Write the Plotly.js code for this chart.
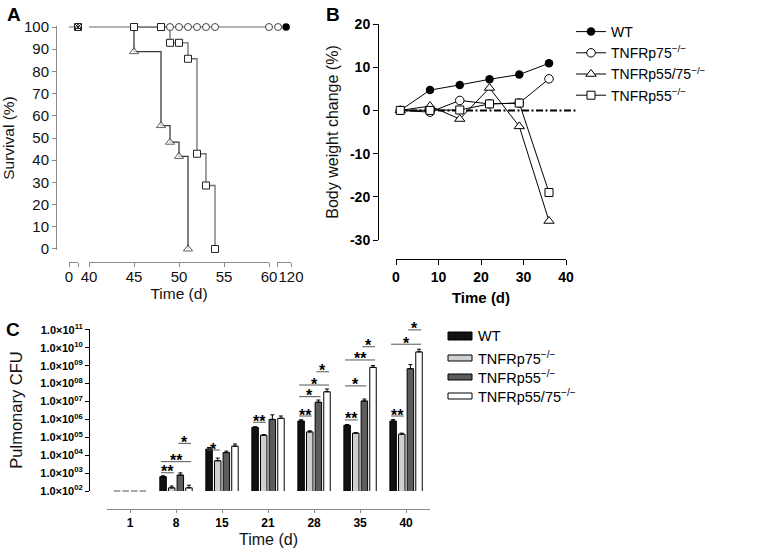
<!DOCTYPE html>
<html><head><meta charset="utf-8">
<script src="https://cdn.plot.ly/plotly-3.0.1.min.js"></script>
<style>html,body{margin:0;padding:0;background:#fff}#chart{width:769px;height:554px}</style>
</head><body><div id="chart"></div>
<script>
// ---------- Panel A: survival (%) vs time (d), broken axis ----------
const aEarlyDays = [0, 3];
const aEarlySurv = [100, 100];
const aEarlyMarkDay = [3];
const aEarlyMarkSurv = [100];
const wtDaysMid = [40, 60];
const wtSurvMid = [100, 100];
const wtDaysLate = [118.6];
const wtSurvLate = [100];
const p75DaysMid = [49, 50, 51, 52, 53, 54, 60];
const p75SurvMid = [100, 100, 100, 100, 100, 100, 100];
const p75DaysLate = [116.3];
const p75SurvLate = [100];
const p55DaysMid = [45, 48, 49, 50, 51, 52, 53, 54];
const p55SurvMid = [100, 100, 92.9, 92.9, 85.7, 42.9, 28.6, 0];
const p5575DaysMid = [45, 45, 48, 49, 50, 51];
const p5575SurvMid = [100, 88.9, 55.6, 48.1, 41.7, 0];

// ---------- Panel B: body weight change (%) ----------
const bDays = [1, 8, 15, 22, 29, 36];
const bWT = [0, 4.7, 5.9, 7.2, 8.3, 10.9];
const bP75 = [0, -0.4, 2.3, 1.5, 1.7, 7.3];
const bP5575 = [0, 1.0, -2.0, 5.2, -3.7, -25.6];
const bP55 = [0, 0, 0.1, 1.5, 1.7, -19.0];

// ---------- Panel C: pulmonary CFU (null = at detection limit) ----------
const cDays = ['1', '8', '15', '21', '28', '35', '40'];
const cWT = [null, 630, 2.2e4, 3.6e5, 8.1e5, 4.7e5, 8.1e5];
const cP75 = [null, 150, 4.9e3, 1.3e5, 2.0e5, 1.7e5, 1.5e5];
const cP55 = [null, 780, 1.4e4, 1.0e6, 9.1e6, 1.07e7, 6.8e8];
const cP5575 = [null, 150, 3.2e4, 1.15e6, 3.5e7, 8.1e8, 5.9e9];
const cWTErr = [null, 80, 5e3, 3e4, 1.5e5, 5e4, 1.7e5];
const cP75Err = [null, 40, 2e3, 1e4, 3e4, 1e4, 2e4];
const cP55Err = [null, 250, 3e3, 8e5, 3e6, 3e6, 4.7e8];
const cP5575Err = [null, 60, 1e4, 4e5, 1.5e7, 2e8, 2.4e9];
const cTickVals = [1e2, 1e3, 1e4, 1e5, 1e6, 1e7, 1e8, 1e9, 1e10, 1e11];
const cTickText = ['02', '03', '04', '05', '06', '07', '08', '09', '10', '11'].map(e => '1.0×10<sup>' + e + '</sup>');
// significance: [day index, bar from, bar to, log10 level, label]
const cSig = [
  [1, 0, 1, 3.02, '**'], [1, 0, 3, 3.64, '**'], [1, 2, 3, 4.66, '*'],
  [2, 0, 1, 4.29, '*'],
  [3, 0, 1, 5.84, '**'],
  [4, 0, 1, 6.19, '**'], [4, 0, 2, 7.27, '*'], [4, 0, 3, 7.92, '*'], [4, 2, 3, 8.66, '*'],
  [5, 0, 1, 5.97, '**'], [5, 0, 2, 7.87, '*'], [5, 0, 3, 9.32, '**'], [5, 2, 3, 10.06, '*'],
  [6, 0, 1, 6.19, '**'], [6, 0, 3, 10.2, '*'], [6, 2, 3, 11.0, '*']
];

const nameWT = 'WT';
const nameP75 = 'TNFRp75<sup>−/−</sup>';
const nameP55 = 'TNFRp55<sup>−/−</sup>';
const nameP5575 = 'TNFRp55/75<sup>−/−</sup>';

const F = 'Liberation Sans, Arial, Helvetica, sans-serif';
const W = 769, H = 554;
const fx = px => px / W;
const fy = py => 1 - py / H;

const openM = (sym, size, edge) => ({symbol: sym, size: size, color: '#fff', line: {color: edge || '#222', width: 1}});
const data = [];

// ---- A traces ----
data.push({x: aEarlyDays, y: aEarlySurv, xaxis: 'x', yaxis: 'y', mode: 'lines', line: {color: '#9a9a9a', width: 1.5}, showlegend: false, hoverinfo: 'skip'});
data.push({x: wtDaysMid, y: wtSurvMid, xaxis: 'x2', yaxis: 'y', mode: 'lines', line: {color: '#9a9a9a', width: 1.5}, showlegend: false, hoverinfo: 'skip'});
data.push({x: p5575DaysMid, y: p5575SurvMid, xaxis: 'x2', yaxis: 'y', mode: 'lines+markers', line: {color: '#3a3a3a', width: 1.3, shape: 'hv'},
  marker: {symbol: 'triangle-up', size: p5575DaysMid.map((d, i) => i === 0 ? 0 : 8), color: '#fff', line: {color: '#222', width: 1}}, cliponaxis: false, showlegend: false});
data.push({x: p55DaysMid, y: p55SurvMid, xaxis: 'x2', yaxis: 'y', mode: 'lines+markers', line: {color: '#6e6e6e', width: 1.3, shape: 'hv'},
  marker: openM('square', 7), cliponaxis: false, showlegend: false});
data.push({x: p75DaysMid, y: p75SurvMid, xaxis: 'x2', yaxis: 'y', mode: 'markers', marker: openM('circle', 7, '#444'), cliponaxis: false, showlegend: false});
data.push({x: aEarlyMarkDay, y: aEarlyMarkSurv, xaxis: 'x', yaxis: 'y', mode: 'markers', marker: openM('square', 7), cliponaxis: false, showlegend: false});
data.push({x: aEarlyMarkDay, y: aEarlyMarkSurv, xaxis: 'x', yaxis: 'y', mode: 'markers', marker: {symbol: 'triangle-up', size: 6, color: 'rgba(0,0,0,0)', line: {color: '#222', width: 1}}, cliponaxis: false, showlegend: false});
data.push({x: aEarlyMarkDay, y: aEarlyMarkSurv, xaxis: 'x', yaxis: 'y', mode: 'markers', marker: {symbol: 'x-thin', size: 6, line: {color: '#222', width: 1}}, cliponaxis: false, showlegend: false});
data.push({x: p75DaysLate, y: p75SurvLate, xaxis: 'x3', yaxis: 'y', mode: 'markers', marker: openM('circle', 7, '#444'), cliponaxis: false, showlegend: false});
data.push({x: wtDaysLate, y: wtSurvLate, xaxis: 'x3', yaxis: 'y', mode: 'markers', marker: {symbol: 'circle', size: 7.5, color: '#000'}, cliponaxis: false, showlegend: false});

// ---- B traces ----
const bLine = {color: '#000', width: 1};
data.push({x: bDays, y: bWT, name: nameWT, xaxis: 'x4', yaxis: 'y2', mode: 'lines+markers', line: bLine, marker: {symbol: 'circle', size: 8.5, color: '#000'}, cliponaxis: false, legend: 'legend'});
data.push({x: bDays, y: bP75, name: nameP75, xaxis: 'x4', yaxis: 'y2', mode: 'lines+markers', line: bLine, marker: openM('circle', 8.5, '#000'), cliponaxis: false, legend: 'legend'});
data.push({x: bDays, y: bP5575, name: nameP5575, xaxis: 'x4', yaxis: 'y2', mode: 'lines+markers', line: bLine, marker: openM('triangle-up', 9, '#000'), cliponaxis: false, legend: 'legend'});
data.push({x: bDays, y: bP55, name: nameP55, xaxis: 'x4', yaxis: 'y2', mode: 'lines+markers', line: bLine, marker: openM('square', 8, '#000'), cliponaxis: false, legend: 'legend'});

// ---- C traces ----
const cIdx = cDays.map((d, i) => i);
const cSeries = [
  {name: nameWT, y: cWT, err: cWTErr, color: '#111'},
  {name: nameP75, y: cP75, err: cP75Err, color: '#cfcfcf'},
  {name: nameP55, y: cP55, err: cP55Err, color: '#5c5c5c'},
  {name: nameP5575, y: cP5575, err: cP5575Err, color: '#ffffff'}
];
cSeries.forEach(s => {
  data.push({type: 'bar', x: cIdx, y: s.y, name: s.name, xaxis: 'x5', yaxis: 'y3', showlegend: false,
    marker: {color: s.color, line: {color: '#000', width: 1}},
    error_y: {type: 'data', symmetric: false, array: s.err, arrayminus: s.err.map(() => 0), color: '#000', thickness: 1, width: 2}});
});

const BARGAP = 0.25, GROUPGAP = 0.25, NB = cSeries.length;
const slot = (1 - BARGAP) / NB;
const bw = slot * (1 - GROUPGAP);
const barCenter = (i, k) => i - (1 - BARGAP) / 2 + slot * (k + 0.5);

const shapes = [];
const annotations = [];

// zero reference line in B
shapes.push({type: 'line', xref: 'x4 domain', yref: 'y2', x0: 0, x1: 1.07, y0: 0, y1: 0, layer: 'below',
  line: {color: '#000', width: 2, dash: '7px,2.5px,2px,2.5px'}});

// detection-limit dashes in C
cSeries.forEach((s, k) => s.y.forEach((v, i) => {
  if (v === null) shapes.push({type: 'line', xref: 'x5', yref: 'y3 domain', x0: barCenter(i, k) - bw / 2, x1: barCenter(i, k) + bw / 2, y0: 0, y1: 0, line: {color: '#8a8a8a', width: 1.5}});
}));

// significance lines + stars
cSig.forEach(([i, a, b, lv, lab]) => {
  const x0 = barCenter(i, a) - 0.045, x1 = barCenter(i, b) + 0.045;
  shapes.push({type: 'line', xref: 'x5', yref: 'y3', x0: x0, x1: x1, y0: Math.pow(10, lv), y1: Math.pow(10, lv), line: {color: '#555', width: 1}});
  annotations.push({xref: 'x5', yref: 'y3', x: (x0 + x1) / 2, y: lv, text: lab, showarrow: false, yanchor: 'middle', yshift: 1,
    font: {family: F, size: 16, weight: 'bold', color: '#000'}});
});

// manual legend for C
const cLegY = [336, 358, 377, 396];
cSeries.forEach((s, k) => {
  const hh = k === 0 ? 4 : 3;
  shapes.push({type: 'rect', xref: 'paper', yref: 'paper', x0: fx(448), x1: fx(472), y0: fy(cLegY[k] + hh), y1: fy(cLegY[k] - hh), fillcolor: s.color, line: {color: '#000', width: 1}});
  annotations.push({xref: 'paper', yref: 'paper', x: fx(476), y: fy(cLegY[k]), xanchor: 'left', yanchor: 'middle', text: s.name, showarrow: false, font: {family: F, size: 14.5, color: '#000'}});
});

// panel letters
[['A', 14, 14], ['B', 333, 14], ['C', 13, 329]].forEach(([t, x, y]) => {
  annotations.push({xref: 'paper', yref: 'paper', x: fx(x), y: fy(y), text: t, showarrow: false, xanchor: 'center', yanchor: 'middle', font: {family: F, size: 19, weight: 'bold', color: '#000'}});
});

const grayAx = {showgrid: false, zeroline: false, showline: true, linecolor: '#8a8a8a', linewidth: 1, ticks: 'outside', tickcolor: '#8a8a8a', ticklen: 4, tickwidth: 1,
  tickfont: {family: F, size: 15, color: '#111'}, fixedrange: true};
const blackAx = {showgrid: false, zeroline: false, showline: true, linecolor: '#000', linewidth: 1, ticks: 'outside', tickcolor: '#000', ticklen: 5, tickwidth: 1,
  tickfont: {family: F, size: 14, weight: 'bold', color: '#000'}, fixedrange: true};

const layout = {
  width: W, height: H, margin: {l: 0, r: 0, t: 0, b: 0}, paper_bgcolor: '#fff', plot_bgcolor: 'rgba(0,0,0,0)',
  font: {family: F, color: '#000'}, barmode: 'group', bargap: BARGAP, bargroupgap: GROUPGAP,
  xaxis: Object.assign({}, grayAx, {domain: [fx(69), fx(78)], range: [0, 3], anchor: 'free', position: fy(262), tickvals: [0, 3], ticktext: ['0', ''], ticklabelstandoff: -3}),
  xaxis2: Object.assign({}, grayAx, {domain: [fx(89), fx(269)], range: [40, 60], anchor: 'free', position: fy(262), tickvals: [40, 45, 50, 55, 60], ticklabelstandoff: -3,
    title: {text: 'Time (d)', font: {family: F, size: 15.5, color: '#111'}, standoff: 0}}),
  xaxis3: Object.assign({}, grayAx, {domain: [fx(277), fx(291)], range: [116, 120], anchor: 'free', position: fy(262), tickvals: [116, 120], ticktext: ['', '120'], ticklabelstandoff: -3}),
  yaxis: Object.assign({}, grayAx, {domain: [fy(250.3), fy(25.7)], range: [-0.6, 100.6], anchor: 'free', position: fx(56), tickvals: [0, 10, 20, 30, 40, 50, 60, 70, 80, 90, 100],
    title: {text: 'Survival (%)', font: {family: F, size: 15.5, color: '#111'}, standoff: 4}}),
  xaxis4: Object.assign({}, blackAx, {domain: [fx(396), fx(566)], range: [0, 40], anchor: 'free', position: fy(259), tickvals: [0, 10, 20, 30, 40],
    title: {text: 'Time (d)', font: {family: F, size: 15, weight: 'bold', color: '#000'}, standoff: 8}}),
  yaxis2: Object.assign({}, blackAx, {domain: [fy(240), fy(24)], range: [-30, 20], anchor: 'free', position: fx(378), tickvals: [-30, -20, -10, 0, 10, 20], ticktext: ['-30', '-20', '-10', '0', '10', '20'],
    title: {text: 'Body weight change (%)', font: {family: F, size: 16, color: '#111'}, standoff: 6}}),
  xaxis5: Object.assign({}, grayAx, {domain: [fx(107), fx(430)], range: [-0.5, 6.52], anchor: 'free', position: fy(509), tickvals: cIdx, ticktext: cDays, ticklen: 3,
    tickfont: {family: F, size: 12, weight: 'bold', color: '#000'},
    title: {text: 'Time (d)', font: {family: F, size: 16, color: '#111'}, standoff: 4}}),
  yaxis3: Object.assign({}, blackAx, {type: 'log', domain: [fy(491), fy(329)], range: [2, 11.05], anchor: 'free', position: fx(89), tickvals: cTickVals, ticktext: cTickText, ticklen: 4,
    tickfont: {family: F, size: 11, weight: 'bold', color: '#000'},
    title: {text: 'Pulmonary CFU', font: {family: F, size: 16.5, color: '#111'}, standoff: 12}}),
  legend: {x: fx(571), y: fy(16), xanchor: 'left', yanchor: 'top', bgcolor: 'rgba(0,0,0,0)', font: {family: F, size: 14, color: '#000'}, itemwidth: 30, tracegroupgap: 0},
  shapes: shapes,
  annotations: annotations,
  showlegend: true
};

Plotly.newPlot('chart', data, layout, {staticPlot: true, displayModeBar: false});
</script>
</body></html>
